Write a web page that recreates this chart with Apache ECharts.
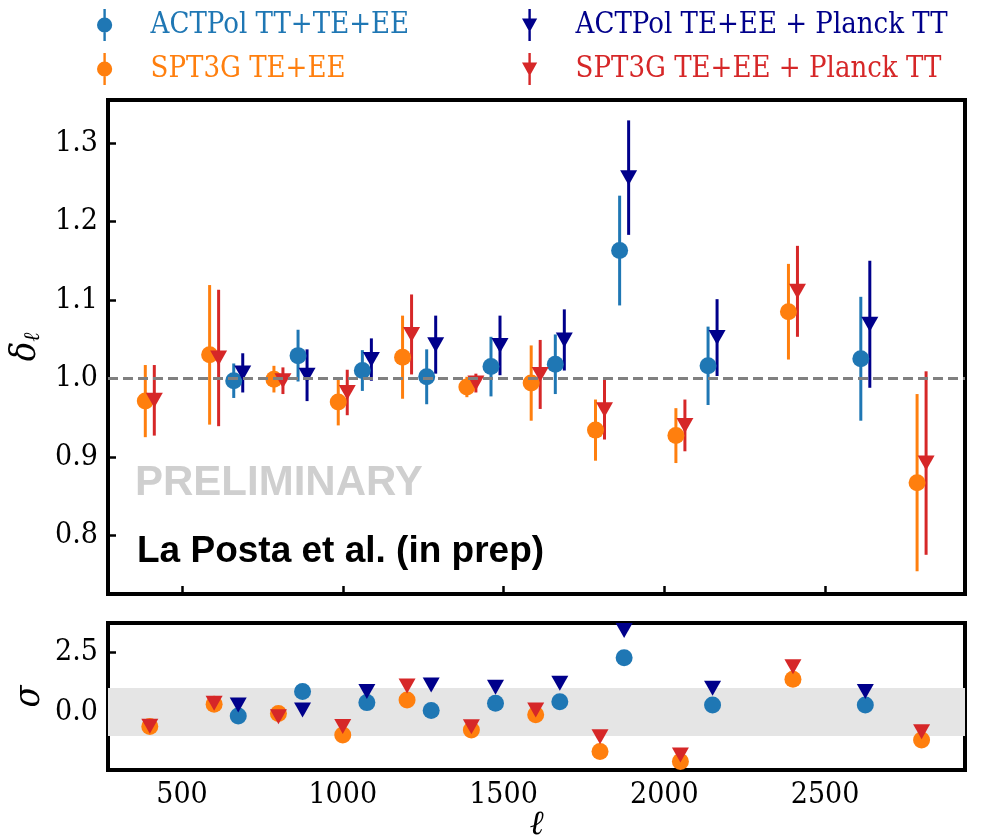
<!DOCTYPE html>
<html>
<head>
<meta charset="utf-8">
<script src="https://cdn.jsdelivr.net/npm/echarts@6/dist/echarts.min.js"></script>
<style>
  html, body { margin: 0; padding: 0; background: #fff; }
  #chart { width: 982px; height: 835px; }
</style>
</head>
<body>
<div id="chart"></div>
<script>
// multipole bins
const actEll = [675, 875, 1075, 1275, 1475, 1675, 1875, 2150, 2625];
const sptEll = [400, 600, 800, 1000, 1200, 1400, 1600, 1800, 2050, 2400, 2800];

// delta_ell, top panel
const actTT = [0.997, 1.029, 1.010, 1.002, 1.015, 1.018, 1.163, 1.016, 1.025];
const actTTErr = [0.022, 0.033, 0.026, 0.035, 0.038, 0.038, 0.070, 0.050, 0.079];
const actPl = [1.007, 1.004, 1.024, 1.043, 1.042, 1.049, 1.256, 1.052, 1.069];
const actPlErr = [0.025, 0.033, 0.027, 0.037, 0.038, 0.039, 0.073, 0.049, 0.081];
const sptTE = [0.971, 1.030, 0.999, 0.970, 1.027, 0.989, 0.994, 0.934, 0.927, 1.085, 0.867];
const sptTEErr = [0.046, 0.089, 0.017, 0.030, 0.053, 0.013, 0.048, 0.039, 0.035, 0.061, 0.113];
const sptPl = [0.972, 1.026, 0.997, 0.982, 1.056, 0.994, 1.005, 0.960, 0.940, 1.111, 0.892];
const sptPlErr = [0.045, 0.087, 0.017, 0.029, 0.051, 0.012, 0.044, 0.038, 0.033, 0.058, 0.117];

// sigma, bottom panel
const actTTSig = [-0.17, 0.85, 0.39, 0.06, 0.36, 0.43, 2.26, 0.29, 0.29];
const actPlSig = [0.29, 0.08, 0.85, 1.12, 1.03, 1.20, 3.40, 0.99, 0.85];
const sptTESig = [-0.61, 0.32, -0.06, -0.96, 0.50, -0.75, -0.12, -1.65, -2.07, 1.36, -1.17];
const sptPlSig = [-0.60, 0.36, -0.20, -0.61, 1.08, -0.62, 0.08, -1.03, -1.79, 1.89, -0.82];

// tick labels
const xTicks = [500, 1000, 1500, 2000, 2500];
const yTicksTop = [0.8, 0.9, 1.0, 1.1, 1.2, 1.3];
const yTicksBot = [0, 2.5];

const shift = 14; // small horizontal offset between the two versions in the top panel

const names = ['ACTPol TT+TE+EE', 'SPT3G TE+EE', 'ACTPol TE+EE + Planck TT', 'SPT3G TE+EE + Planck TT'];
const colors = ['#1f77b4', '#ff7f0e', '#00008b', '#d62728'];

const serif = "'DejaVu Serif Condensed', 'DejaVu Serif', serif";

const circIcon = 'path://M8.5,0 L11.5,0 L11.5,40 L8.5,40 Z M0.5,20 A9.5,9.5 0 1 1 19.5,20 A9.5,9.5 0 1 1 0.5,20 Z';
const triIcon = 'path://M8.5,0 L11.5,0 L11.5,40 L8.5,40 Z M0.5,12 L19.5,12 L10,29 Z';

var chart = echarts.init(document.getElementById('chart'));

function errBars(name, ells, vals, errs, color, dx) {
  return {
    name: name,
    type: 'custom',
    xAxisIndex: 0,
    yAxisIndex: 0,
    clip: true,
    silent: true,
    itemStyle: { color: color },
    data: ells.map((l, i) => [l + dx, vals[i] - errs[i], vals[i] + errs[i]]),
    encode: { x: 0, y: [1, 2] },
    renderItem: function (params, api) {
      var lo = api.coord([api.value(0), api.value(1)]);
      var hi = api.coord([api.value(0), api.value(2)]);
      return {
        type: 'line',
        shape: { x1: lo[0], y1: lo[1], x2: hi[0], y2: hi[1] },
        style: { stroke: color, lineWidth: 3 }
      };
    }
  };
}

function points(name, ells, vals, color, dx, tri, panel) {
  return {
    name: name,
    type: 'scatter',
    xAxisIndex: panel,
    yAxisIndex: panel,
    silent: true,
    symbol: tri ? 'triangle' : 'circle',
    symbolRotate: tri ? 180 : 0,
    symbolSize: tri ? [17, 15] : 17,
    itemStyle: { color: color, opacity: 1 },
    data: ells.map((l, i) => [l + dx, vals[i]])
  };
}

var series = [
  errBars(names[0], actEll, actTT, actTTErr, colors[0], -shift),
  points(names[0], actEll, actTT, colors[0], -shift, false, 0),
  errBars(names[1], sptEll, sptTE, sptTEErr, colors[1], -shift),
  points(names[1], sptEll, sptTE, colors[1], -shift, false, 0),
  errBars(names[2], actEll, actPl, actPlErr, colors[2], shift),
  points(names[2], actEll, actPl, colors[2], shift, true, 0),
  errBars(names[3], sptEll, sptPl, sptPlErr, colors[3], shift),
  points(names[3], sptEll, sptPl, colors[3], shift, true, 0),
  points(names[0], actEll, actTTSig, colors[0], 0, false, 1),
  points(names[1], sptEll, sptTESig, colors[1], 0, false, 1),
  points(names[2], actEll, actPlSig, colors[2], 0, true, 1),
  points(names[3], sptEll, sptPlSig, colors[3], 0, true, 1)
];

// dashed line at 1 and the +-1 sigma band
series[0].markLine = {
  silent: true, symbol: 'none', label: { show: false },
  lineStyle: { color: '#808080', type: [10, 5], width: 3 },
  data: [{ yAxis: 1 }]
};
series[8].markArea = {
  silent: true,
  itemStyle: { color: '#e5e5e5' },
  data: [[{ yAxis: -1 }, { yAxis: 1 }]]
};

function xAx(idx, labels) {
  return {
    type: 'value', gridIndex: idx, min: 270, max: 2935,
    axisLine: { show: false },
    splitLine: { show: false },
    axisTick: { inside: true, length: 8, customValues: xTicks, lineStyle: { color: '#000', width: 2.5 } },
    axisLabel: {
      show: labels, customValues: xTicks, margin: 10,
      color: '#000', fontSize: 30, fontFamily: serif,
      formatter: v => String(v)
    }
  };
}

function yAx(idx, min, max, ticks) {
  return {
    type: 'value', gridIndex: idx, min: min, max: max,
    axisLine: { show: false },
    splitLine: { show: false },
    axisTick: { inside: true, length: 8, customValues: ticks, lineStyle: { color: '#000', width: 2.5 } },
    axisLabel: {
      customValues: ticks, margin: 10,
      color: '#000', fontSize: 30, fontFamily: serif,
      formatter: v => v.toFixed(1)
    }
  };
}

var xAxes = [xAx(0, false), xAx(1, true)];
xAxes[1].name = 'ℓ';
xAxes[1].nameLocation = 'middle';
xAxes[1].nameGap = 38;
xAxes[1].nameMoveOverlap = false;
xAxes[1].nameTextStyle = { color: '#000', fontSize: 34, fontStyle: 'italic', fontFamily: serif };

var yAxes = [yAx(0, 0.725, 1.355, yTicksTop), yAx(1, -2.42, 3.71, yTicksBot)];
yAxes[0].name = '{d|δ}{s|ℓ}';
yAxes[0].nameLocation = 'middle';
yAxes[0].nameGap = 64;
yAxes[0].nameMoveOverlap = false;
yAxes[0].nameTextStyle = {
  rich: {
    d: { fontSize: 36, fontStyle: 'italic', fontFamily: serif, color: '#000', verticalAlign: 'top' },
    s: { fontSize: 22, fontStyle: 'italic', fontFamily: serif, color: '#000', verticalAlign: 'bottom', padding: [14, 0, 0, 0] }
  }
};
yAxes[1].name = 'σ';
yAxes[1].nameLocation = 'middle';
yAxes[1].nameGap = 60;
yAxes[1].nameMoveOverlap = false;
yAxes[1].nameTextStyle = { color: '#000', fontSize: 36, fontStyle: 'italic', fontFamily: serif };

function legendItems(a, b) {
  return [a, b].map(i => ({
    name: names[i],
    icon: i < 2 ? circIcon : triIcon,
    itemStyle: { color: colors[i] },
    textStyle: { color: colors[i] }
  }));
}

function legendAt(left, items) {
  return {
    orient: 'vertical', left: left, top: 4, itemWidth: 16, itemHeight: 32, itemGap: 12,
    selectedMode: false, symbolKeepAspect: true,
    textStyle: { fontSize: 29, fontFamily: serif, padding: [0, 0, 0, 33] },
    data: items
  };
}

chart.setOption({
  animation: false,
  backgroundColor: '#fff',
  grid: [
    { left: 108, top: 100, width: 857, height: 494, show: true, borderColor: '#000', borderWidth: 4, backgroundColor: 'transparent', outerBoundsMode: 'none', containLabel: false },
    { left: 108, top: 623, width: 857, height: 147, show: true, borderColor: '#000', borderWidth: 4, backgroundColor: 'transparent', outerBoundsMode: 'none', containLabel: false }
  ],
  legend: [legendAt(92, legendItems(0, 1)), legendAt(517, legendItems(2, 3))],
  xAxis: xAxes,
  yAxis: yAxes,
  graphic: [
    {
      type: 'text', left: 135, top: 462, silent: true,
      style: { text: 'PRELIMINARY', fill: '#cfcfcf', font: 'bold 42px "Liberation Sans", Arial, sans-serif' }
    },
    {
      type: 'text', left: 137, top: 533, silent: true,
      style: { text: 'La Posta et al. (in prep)', fill: '#000', font: 'bold 37px "Liberation Sans", Arial, sans-serif' }
    }
  ],
  series: series
});
</script>
</body>
</html>
